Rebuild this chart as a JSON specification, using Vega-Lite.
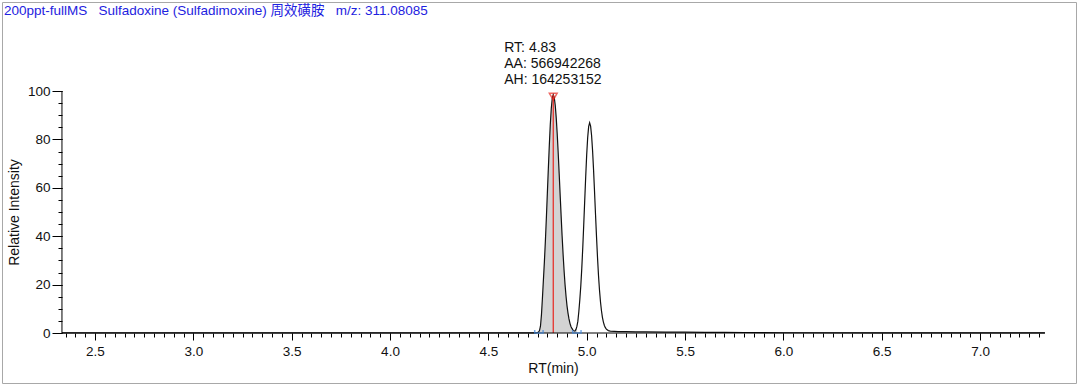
{
  "$schema": "https://vega.github.io/schema/vega-lite/v6.json",
  "width": 1074,
  "height": 381,
  "autosize": {"type": "none"},
  "padding": {"left": 2, "top": 2, "right": 4, "bottom": 4},
  "background": "white",
  "config": {
    "view": {"stroke": "#a8a8a8", "strokeWidth": 1},
    "font": "Liberation Sans",
    "axis": {
      "domain": false,
      "grid": false,
      "tickColor": "#000000",
      "tickWidth": 1,
      "labelColor": "#111111",
      "labelFont": "Liberation Sans",
      "labelFontSize": 13.5,
      "titleFont": "Liberation Sans",
      "titleFontSize": 14,
      "titleFontWeight": "normal",
      "titleColor": "#111111",
      "labelFlush": false,
      "labelOverlap": false
    }
  },
  "title": {
    "text": "200ppt-fullMS\u00a0\u00a0\u00a0Sulfadoxine (Sulfadimoxine) 周效磺胺\u00a0\u00a0\u00a0m/z: 311.08085",
    "anchor": "start",
    "frame": "group",
    "orient": "top",
    "offset": -15,
    "dx": 2,
    "fontSize": 13.5,
    "fontWeight": "normal",
    "font": "Liberation Sans, Noto Sans CJK SC, sans-serif",
    "color": "#1e22e0"
  },
  "datasets": {
    "trace": [
      {"t": 2.332, "i": 0.05}, {"t": 2.5, "i": 0.05}, {"t": 3.0, "i": 0.05}, {"t": 3.5, "i": 0.05},
      {"t": 4.0, "i": 0.05}, {"t": 4.5, "i": 0.05}, {"t": 4.7, "i": 0.05}, {"t": 4.74, "i": 0.05},
      {"t": 4.745, "i": 0.1}, {"t": 4.75, "i": 0.2}, {"t": 4.755, "i": 0.4}, {"t": 4.76, "i": 1.0},
      {"t": 4.765, "i": 2.8}, {"t": 4.77, "i": 7.5}, {"t": 4.775, "i": 14.5}, {"t": 4.78, "i": 22.0},
      {"t": 4.785, "i": 29.5}, {"t": 4.79, "i": 38.0}, {"t": 4.795, "i": 47.5}, {"t": 4.8, "i": 57.7},
      {"t": 4.805, "i": 67.9}, {"t": 4.81, "i": 77.6}, {"t": 4.815, "i": 86.2}, {"t": 4.82, "i": 92.8},
      {"t": 4.825, "i": 97.0}, {"t": 4.83, "i": 98.5}, {"t": 4.835, "i": 97.4}, {"t": 4.84, "i": 94.2},
      {"t": 4.845, "i": 89.1}, {"t": 4.85, "i": 82.5}, {"t": 4.855, "i": 74.7}, {"t": 4.86, "i": 66.1},
      {"t": 4.865, "i": 57.2}, {"t": 4.87, "i": 48.5}, {"t": 4.875, "i": 40.2}, {"t": 4.88, "i": 32.6},
      {"t": 4.885, "i": 25.8}, {"t": 4.89, "i": 20.0}, {"t": 4.895, "i": 15.2}, {"t": 4.9, "i": 11.2},
      {"t": 4.905, "i": 8.2}, {"t": 4.91, "i": 5.8}, {"t": 4.915, "i": 4.0}, {"t": 4.92, "i": 2.7},
      {"t": 4.925, "i": 1.9}, {"t": 4.93, "i": 1.3}, {"t": 4.935, "i": 0.9}, {"t": 4.94, "i": 0.8},
      {"t": 4.945, "i": 1.4}, {"t": 4.95, "i": 2.6}, {"t": 4.955, "i": 4.8}, {"t": 4.96, "i": 8.8},
      {"t": 4.965, "i": 13.7}, {"t": 4.97, "i": 19.4}, {"t": 4.975, "i": 26.6}, {"t": 4.98, "i": 35.1},
      {"t": 4.985, "i": 44.7}, {"t": 4.99, "i": 54.7}, {"t": 4.995, "i": 64.6}, {"t": 5.0, "i": 73.6},
      {"t": 5.005, "i": 80.7}, {"t": 5.01, "i": 85.3}, {"t": 5.015, "i": 86.9}, {"t": 5.02, "i": 85.5},
      {"t": 5.025, "i": 81.5}, {"t": 5.03, "i": 75.3}, {"t": 5.035, "i": 67.3}, {"t": 5.04, "i": 58.3},
      {"t": 5.045, "i": 48.9}, {"t": 5.05, "i": 39.8}, {"t": 5.055, "i": 31.3}, {"t": 5.06, "i": 23.9},
      {"t": 5.065, "i": 17.9}, {"t": 5.07, "i": 13.0}, {"t": 5.075, "i": 9.3}, {"t": 5.08, "i": 6.5},
      {"t": 5.085, "i": 4.5}, {"t": 5.09, "i": 3.1}, {"t": 5.095, "i": 2.2}, {"t": 5.1, "i": 1.6},
      {"t": 5.11, "i": 1.0}, {"t": 5.12, "i": 0.8}, {"t": 5.14, "i": 0.7}, {"t": 5.16, "i": 0.6},
      {"t": 5.2, "i": 0.55}, {"t": 5.25, "i": 0.5}, {"t": 5.3, "i": 0.45}, {"t": 5.4, "i": 0.4},
      {"t": 5.5, "i": 0.35}, {"t": 5.6, "i": 0.3}, {"t": 5.7, "i": 0.25}, {"t": 5.8, "i": 0.2},
      {"t": 5.9, "i": 0.15}, {"t": 6.0, "i": 0.1}, {"t": 6.5, "i": 0.05}, {"t": 7.0, "i": 0.05},
      {"t": 7.33, "i": 0.05}
    ],
    "peak": [{"rt": 4.83, "apex": 98.5, "label": "RT: 4.83\nAA: 566942268\nAH: 164253152"}],
    "bounds": [{"rt": 4.757}, {"rt": 4.95}],
    "xaxis": [{"x1": 2.332, "x2": 7.33, "y": 0}],
    "yaxis": [{"x": 2.332, "y1": 0, "y2": 100}]
  },
  "layer": [
    {
      "data": {"name": "trace"},
      "transform": [{"filter": "datum.t >= 4.755 && datum.t <= 4.95"}],
      "mark": {"type": "area", "color": "#d3d3d3", "opacity": 1},
      "encoding": {
        "x": {"field": "t", "type": "quantitative", "scale": {"domain": [2.0271, 7.488], "nice": false, "zero": false}, "axis": null},
        "y": {"field": "i", "type": "quantitative", "scale": {"domain": [-20.66, 136.78], "nice": false, "zero": false}, "axis": null}
      }
    },
    {
      "data": {"name": "trace"},
      "mark": {"type": "line", "color": "#111111", "strokeWidth": 1.2},
      "encoding": {
        "x": {
          "field": "t", "type": "quantitative",
          "scale": {"domain": [2.0271, 7.488], "nice": false, "zero": false},
          "axis": {
            "orient": "bottom",
            "values": [2.5, 3.0, 3.5, 4.0, 4.5, 5.0, 5.5, 6.0, 6.5, 7.0],
            "format": ".1f",
            "tickSize": 7,
            "labelPadding": 4,
            "offset": -50,
            "title": "RT(min)",
            "titleX": 551,
            "titleY": 35,
            "titleBaseline": "middle"
          }
        },
        "y": {
          "field": "i", "type": "quantitative",
          "scale": {"domain": [-20.66, 136.78], "nice": false, "zero": false},
          "axis": {
            "orient": "left",
            "values": [0, 20, 40, 60, 80, 100],
            "tickSize": 10,
            "labelPadding": 2,
            "offset": -60,
            "title": "Relative Intensity",
            "titleX": -48,
            "titleY": 210,
            "titleBaseline": "middle"
          }
        }
      }
    },
    {
      "data": {"name": "peak"},
      "mark": {"type": "rule", "color": "#e8261f", "strokeWidth": 1.2},
      "encoding": {
        "x": {"field": "rt", "type": "quantitative", "axis": null},
        "y": {"field": "apex", "type": "quantitative", "axis": null},
        "y2": {"datum": 0}
      }
    },
    {
      "data": {"name": "peak"},
      "mark": {"type": "point", "shape": "triangle-down", "filled": false, "stroke": "#e8261f", "strokeWidth": 1.5, "size": 60, "yOffset": 2},
      "encoding": {
        "x": {"field": "rt", "type": "quantitative", "axis": null},
        "y": {"field": "apex", "type": "quantitative", "axis": null}
      }
    },
    {
      "data": {"name": "xaxis"},
      "mark": {"type": "rule", "color": "#000000", "strokeWidth": 1},
      "encoding": {
        "x": {
          "field": "x1", "type": "quantitative",
          "axis": {
            "orient": "bottom",
            "values": [2.35,2.4,2.45,2.5,2.55,2.6,2.65,2.7,2.75,2.8,2.85,2.9,2.95,3,3.05,3.1,3.15,3.2,3.25,3.3,3.35,3.4,3.45,3.5,3.55,3.6,3.65,3.7,3.75,3.8,3.85,3.9,3.95,4,4.05,4.1,4.15,4.2,4.25,4.3,4.35,4.4,4.45,4.5,4.55,4.6,4.65,4.7,4.75,4.8,4.85,4.9,4.95,5,5.05,5.1,5.15,5.2,5.25,5.3,5.35,5.4,5.45,5.5,5.55,5.6,5.65,5.7,5.75,5.8,5.85,5.9,5.95,6,6.05,6.1,6.15,6.2,6.25,6.3,6.35,6.4,6.45,6.5,6.55,6.6,6.65,6.7,6.75,6.8,6.85,6.9,6.95,7,7.05,7.1,7.15,7.2,7.25,7.3],
            "labels": false,
            "tickSize": 4,
            "offset": -50,
            "title": null
          }
        },
        "x2": {"field": "x2"},
        "y": {"field": "y", "type": "quantitative", "axis": null}
      }
    },
    {
      "data": {"name": "yaxis"},
      "mark": {"type": "rule", "color": "#000000", "strokeWidth": 1},
      "encoding": {
        "x": {"field": "x", "type": "quantitative", "axis": null},
        "y": {
          "field": "y1", "type": "quantitative",
          "axis": {
            "orient": "left",
            "values": [0,5,10,15,20,25,30,35,40,45,50,55,60,65,70,75,80,85,90,95,100],
            "labels": false,
            "tickSize": 4,
            "offset": -60,
            "title": null
          }
        },
        "y2": {"field": "y2"}
      }
    },
    {
      "data": {"name": "bounds"},
      "mark": {"type": "point", "shape": "M-1,-0.7L-1,0L1,0L1,-0.7", "filled": false, "stroke": "#3f86dc", "strokeWidth": 1.5, "size": 70},
      "encoding": {
        "x": {"field": "rt", "type": "quantitative", "axis": null},
        "y": {"datum": 0, "type": "quantitative", "axis": null}
      }
    },
    {
      "data": {"name": "peak"},
      "mark": {"type": "text", "align": "left", "baseline": "top", "dx": -49, "dy": -54, "lineBreak": "\n", "lineHeight": 16, "fontSize": 14, "font": "Liberation Sans", "color": "#111111"},
      "encoding": {
        "x": {"field": "rt", "type": "quantitative", "axis": null},
        "y": {"field": "apex", "type": "quantitative", "axis": null},
        "text": {"field": "label", "type": "nominal"}
      }
    }
  ],
  "resolve": {"axis": {"x": "independent", "y": "independent"}}
}
